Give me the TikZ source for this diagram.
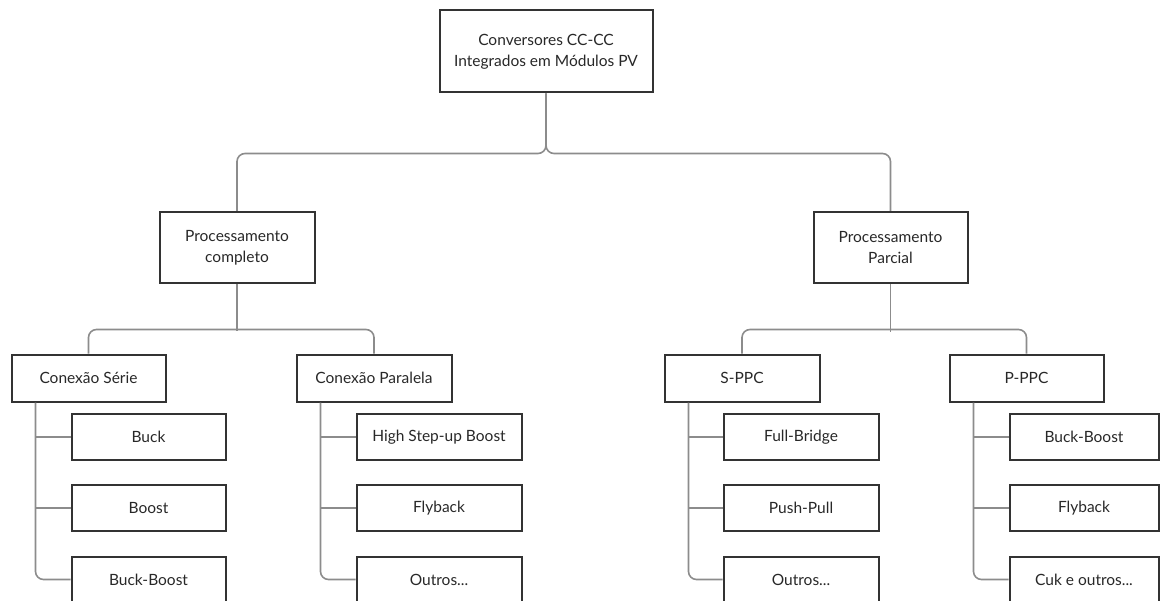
\documentclass[tikz,border=0pt]{standalone}
\usepackage{fontspec}
\setmainfont{Lato}
\usetikzlibrary{calc}
\definecolor{box1}{RGB}{51, 51, 51}
\definecolor{line1}{RGB}{140, 140, 140}
\definecolor{text1}{RGB}{40, 40, 40}
\tikzset{
  box/.style={draw=box1, line width=2pt, fill=white, text=text1, align=center,
    inner sep=0pt, font=\fontsize{15.5}{21}\selectfont},
  link/.style={draw=line1, line width=1.6pt, rounded corners=8pt}
}

\begin{document}
\begin{tikzpicture}[x=1pt, y=-1pt]
  \useasboundingbox (0,0) rectangle (1161,601);
  \clip (0,0) rectangle (1161,601);
  \node[box, minimum width=213pt, minimum height=82pt] (n1) at (546,51.5) {Conversores CC-CC\\Integrados em Módulos PV};
  \node[box, minimum width=155pt, minimum height=71pt] (n2) at (237,247.5) {Processamento\\completo};
  \node[box, minimum width=154pt, minimum height=71pt] (n3) at (890.5,247.5) {Processamento\\Parcial};
  \node[box, minimum width=154pt, minimum height=47pt] (n4) at (88.5,378) {Conexão Série};
  \node[box, minimum width=155pt, minimum height=47pt] (n5) at (374,378) {Conexão Paralela};
  \node[box, minimum width=155pt, minimum height=47pt] (n6) at (742,378) {S-PPC};
  \node[box, minimum width=154pt, minimum height=47pt] (n7) at (1026.5,378) {P-PPC};
  % leaves
  \node[box, minimum width=154pt, minimum height=46pt] (n8) at (148.5,437) {Buck};
  \node[box, minimum width=154pt, minimum height=46pt] (n9) at (148.5,508) {Boost};
  \node[box, minimum width=154pt, minimum height=46pt] (n10) at (148.5,579.5) {Buck-Boost};
  \node[box, minimum width=165pt, minimum height=46pt] (n11) at (439,437) {High Step-up Boost};
  \node[box, minimum width=165pt, minimum height=46pt] (n12) at (439,508) {Flyback};
  \node[box, minimum width=165pt, minimum height=46pt] (n13) at (439,579.5) {Outros...};
  \node[box, minimum width=155pt, minimum height=46pt] (n14) at (801,437) {Full-Bridge};
  \node[box, minimum width=155pt, minimum height=46pt] (n15) at (801,508) {Push-Pull};
  \node[box, minimum width=155pt, minimum height=46pt] (n16) at (801,579.5) {Outros...};
  \node[box, minimum width=149pt, minimum height=46pt] (n17) at (1084,437) {Buck-Boost};
  \node[box, minimum width=149pt, minimum height=46pt] (n18) at (1084,508) {Flyback};
  \node[box, minimum width=149pt, minimum height=46pt] (n19) at (1084,579.5) {Cuk e outros...};
  % tree
  \draw[link] (n1.south) -- ++(0,60) -| (n2.north);
  \draw[link] (n1.south) -- ++(0,60) -| (n3.north);
  \draw[link] (n4.north) -- ++(0,-24) -| (n5.north);
  \draw[link] (n6.north) -- ++(0,-24) -| (n7.north);
  \draw[link] (n2.south) -- ($(n2.south)+(0,47)$);
  \draw[link] (n3.south) -- ($(n3.south)+(0,48)$);
  \foreach \p/\a/\b/\c in {n4/n8/n9/n10, n5/n11/n12/n13, n6/n14/n15/n16, n7/n17/n18/n19}{
    \coordinate (t) at ([xshift=25pt]\p.south west);
    \draw[link] (t) |- (\c.west);
    \draw[link] (\a.west) -- (\a.west -| t);
    \draw[link] (\b.west) -- (\b.west -| t);
  }
\end{tikzpicture}
\end{document}
